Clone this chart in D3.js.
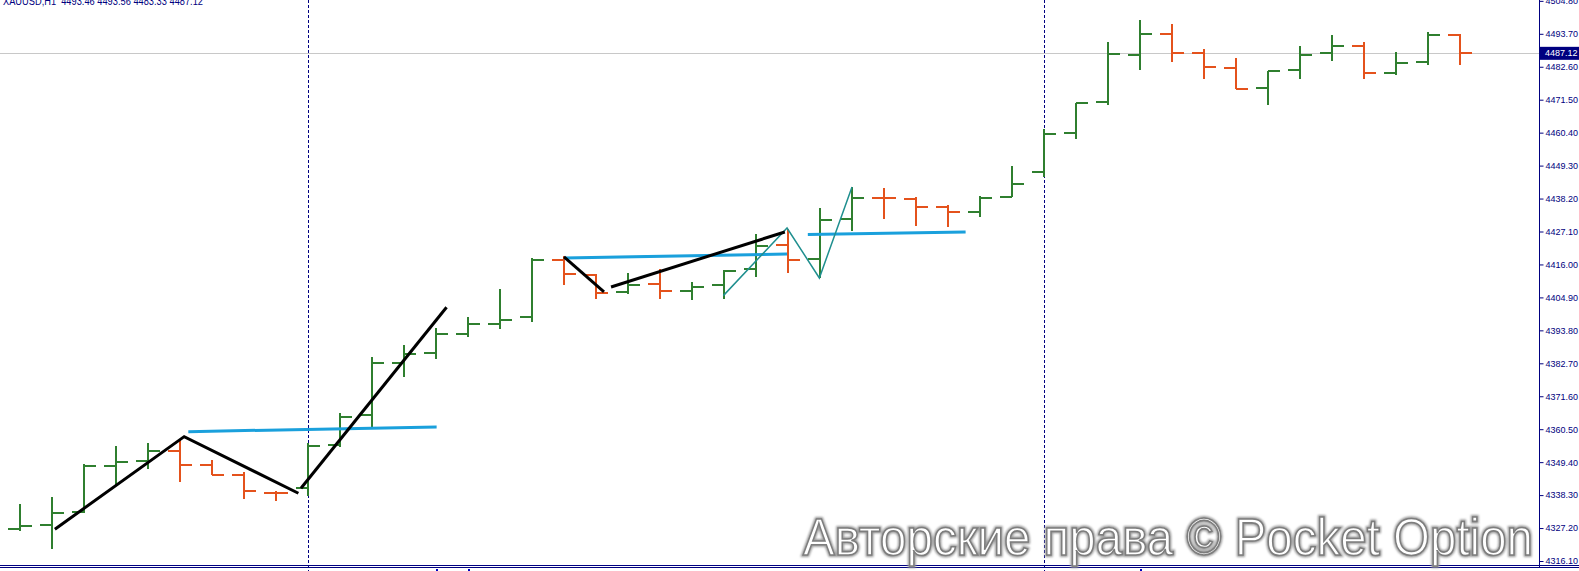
<!DOCTYPE html>
<html><head><meta charset="utf-8">
<script src="https://cdn.jsdelivr.net/npm/d3@7"></script>
<style>body{margin:0;background:#fff;overflow:hidden}svg{display:block}text{font-family:"Liberation Sans",Arial,sans-serif}</style>
</head><body><svg id="c" width="1579" height="571"></svg>
<script>
// ---- data ----
const opens  = [4327.01,4328.26,4332.74,4348.23,4349.81,4353.28,4348.57,4345.20,4339.13,4340.62,4355.20,4365.31,4382.92,4386.09,4392.59,4395.79,4398.15,4417.51,4412.56,4406.67,4409.26,4406.90,4409.03,4414.35,4422.60,4417.88,4431.22,4438.33,4437.96,4435.26,4433.78,4438.83,4447.25,4460.39,4470.73,4486.70,4493.57,4487.13,4482.28,4475.55,4481.61,4487.13,4489.69,4480.60,4484.30,4493.46];
const highs  = [4335.33,4337.79,4348.80,4354.87,4355.77,4357.12,4350.15,4346.21,4339.81,4355.77,4366.08,4384.74,4388.88,4394.51,4398.38,4407.61,4418.22,4418.69,4412.80,4413.13,4414.35,4409.97,4413.98,4426.14,4427.92,4435.03,4442.10,4441.86,4438.80,4436.04,4439.17,4449.17,4461.53,4470.49,4490.94,4498.31,4496.93,4488.48,4485.45,4481.27,4489.59,4493.30,4491.04,4487.57,4494.21,4493.56];
const lows   = [4326.34,4320.18,4332.20,4341.73,4347.02,4342.84,4345.20,4336.91,4336.44,4338.03,4354.63,4361.37,4378.21,4384.07,4391.55,4394.27,4396.63,4409.03,4404.28,4406.06,4404.28,4404.04,4404.51,4411.62,4413.13,4411.38,4427.32,4431.22,4428.86,4428.73,4431.90,4438.63,4445.57,4458.17,4469.62,4481.34,4484.07,4478.58,4475.01,4469.62,4478.38,4484.64,4478.38,4479.72,4483.09,4483.33];
const closes = [4327.92,4332.40,4348.13,4349.48,4353.28,4348.57,4345.20,4339.81,4338.93,4354.97,4364.73,4382.92,4385.85,4392.49,4395.79,4397.44,4417.51,4412.80,4406.40,4409.03,4406.90,4408.42,4413.74,4422.23,4417.51,4430.88,4438.33,4438.23,4435.23,4433.78,4438.50,4443.11,4459.95,4470.39,4487.00,4493.57,4487.13,4482.62,4475.11,4481.27,4486.66,4489.69,4480.60,4483.97,4493.40,4487.12];
const yTicks = [4504.80,4493.70,4482.60,4471.50,4460.40,4449.30,4438.20,4427.10,4416.00,4404.90,4393.80,4382.70,4371.60,4360.50,4349.40,4338.30,4327.20,4316.10];
const bidPrice = 4487.12;
const header = "XAUUSD,H1  4493.46 4493.56 4483.33 4487.12";
const separators = [9, 32];
const timeMarks = [13, 14, 35];
const blackLines = [
  [[1.09,4326.81],[5.13,4358.00],[8.70,4338.93]],
  [[8.78,4340.62],[13.33,4401.58]],
  [[17.0,4418.52],[18.25,4406.73]],
  [[18.47,4408.42],[23.90,4426.94]]
];
const blueLines = [
  [[5.26,4359.68],[13.02,4361.27]],
  [[17.0,4418.19],[23.97,4419.53]],
  [[24.62,4426.10],[29.55,4426.94]]
];
const tealLine = [[21.98,4405.5],[23.97,4428.29],[24.98,4411.45],[26.0,4442.10]];
const watermark = "Авторские права © Pocket Option";

// ---- drawing ----
const W = 1579, H = 571, axisX = 1539;
const navy = "#000080", up = "#2f7f2f", down = "#e4521c";
const svg = d3.select("#c");
const x = d3.scaleLinear().domain([0, 45]).range([20, 1460]);
const y = d3.scaleLinear().domain([4316.10, 4493.70]).range([561, 33.8]);

// bid line
svg.append("line").attr("x1",0).attr("x2",axisX).attr("y1",Math.round(y(bidPrice))+0.5).attr("y2",Math.round(y(bidPrice))+0.5)
  .attr("stroke","#c8c8c8").attr("stroke-width",1);

// separators
svg.selectAll("line.sep").data(separators).enter().append("line").attr("class","sep")
  .attr("x1",d=>Math.round(x(d))+0.5).attr("x2",d=>Math.round(x(d))+0.5).attr("y1",0).attr("y2",H)
  .attr("stroke",navy).attr("stroke-width",1).attr("stroke-dasharray","3,2");

// bars
const bars = d3.range(opens.length).map(i=>({i,o:opens[i],h:highs[i],l:lows[i],c:closes[i]}));
const g = svg.append("g").attr("shape-rendering","crispEdges");
const bg = g.selectAll("g.bar").data(bars).enter().append("g").attr("class","bar")
  .attr("stroke",d=>d.c<d.o?down:up).attr("stroke-width",2);
bg.append("line").attr("x1",d=>Math.round(x(d.i))).attr("x2",d=>Math.round(x(d.i)))
  .attr("y1",d=>Math.round(y(d.h))).attr("y2",d=>Math.round(y(d.l)));
bg.append("line").attr("x1",d=>Math.round(x(d.i))-12).attr("x2",d=>Math.round(x(d.i)))
  .attr("y1",d=>Math.round(y(d.o))).attr("y2",d=>Math.round(y(d.o)));
bg.append("line").attr("x1",d=>Math.round(x(d.i))).attr("x2",d=>Math.round(x(d.i))+12)
  .attr("y1",d=>Math.round(y(d.c))).attr("y2",d=>Math.round(y(d.c)));

// annotations
const lineGen = d3.line().x(d=>x(d[0])).y(d=>y(d[1]));
svg.selectAll("path.blue").data(blueLines).enter().append("path").attr("class","blue")
  .attr("d",lineGen).attr("fill","none").attr("stroke","#1aa0dc").attr("stroke-width",3);
svg.append("path").attr("d",lineGen(tealLine)).attr("fill","none").attr("stroke","#1f8f8f").attr("stroke-width",1.5);
svg.selectAll("path.black").data(blackLines).enter().append("path").attr("class","black")
  .attr("d",lineGen).attr("fill","none").attr("stroke","#000").attr("stroke-width",3).attr("stroke-linejoin","miter");

// bottom double line
[565.5, 567.5].forEach(v=>svg.append("line").attr("x1",0).attr("x2",W).attr("y1",v).attr("y2",v).attr("stroke",navy).attr("stroke-width",1));
svg.selectAll("line.tm").data(timeMarks).enter().append("line").attr("class","tm")
  .attr("x1",d=>Math.round(x(d))+1).attr("x2",d=>Math.round(x(d))+1).attr("y1",569).attr("y2",H)
  .attr("stroke","#0000c0").attr("stroke-width",2);

// right axis
svg.append("line").attr("x1",axisX+0.5).attr("x2",axisX+0.5).attr("y1",0).attr("y2",567).attr("stroke",navy).attr("stroke-width",1);
const yAxis = d3.axisRight(y).tickValues(yTicks).tickSize(4).tickSizeOuter(0).tickPadding(2).tickFormat(d3.format(".2f"));
const ag = svg.append("g").attr("transform",`translate(${axisX+0.5},0)`).call(yAxis);
ag.select(".domain").remove();
ag.selectAll(".tick line").attr("stroke",navy);
ag.selectAll(".tick text").attr("fill",navy).style("font-size","9px").style("font-family","'Liberation Sans',Arial,sans-serif");

// bid price label
const by = y(bidPrice);
svg.append("rect").attr("x",axisX+1).attr("y",by-6.5).attr("width",W-axisX-1).attr("height",13).attr("fill",navy);
svg.append("text").attr("x",axisX+6).attr("y",by).attr("dy","0.34em").attr("fill","#fff").style("font-size","9px").text(d3.format(".2f")(bidPrice));

// header
svg.append("text").attr("x",3).attr("y",4.8).attr("fill",navy).style("font-size","10px")
  .attr("textLength",200).attr("lengthAdjust","spacingAndGlyphs").attr("xml:space","preserve").text(header);

// watermark
const defs = svg.append("defs");
defs.append("filter").attr("id","bl").append("feGaussianBlur").attr("stdDeviation",1.2);
svg.append("text").attr("x",803).attr("y",555).style("font-size","52px")
  .attr("textLength",730).attr("lengthAdjust","spacingAndGlyphs")
  .attr("fill","none").attr("stroke","#9a9a9a").attr("stroke-width",4).attr("filter","url(#bl)").text(watermark);
svg.append("text").attr("x",803).attr("y",555).style("font-size","52px")
  .attr("textLength",730).attr("lengthAdjust","spacingAndGlyphs")
  .attr("fill","#fff").attr("stroke","#7d7d7d").attr("stroke-width",1.6).text(watermark);
</script></body></html>
